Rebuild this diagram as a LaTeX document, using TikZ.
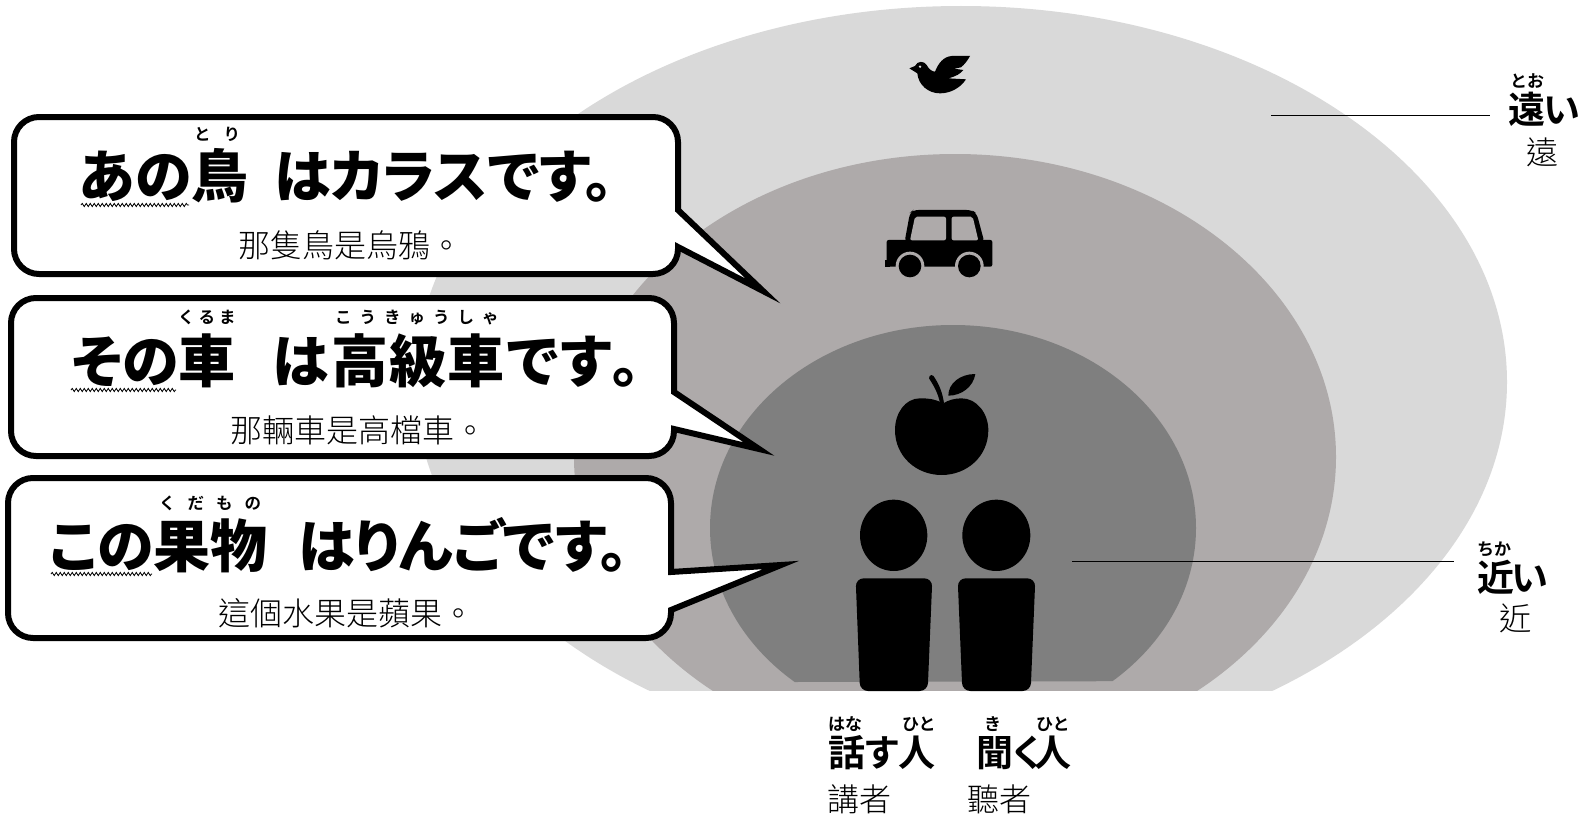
\documentclass[tikz,border=0pt]{standalone}
\usepackage{fontspec}
\usepackage{xcolor}
\usetikzlibrary{decorations.pathmorphing}
\newfontfamily\jpheavy[RawFeature=+palt]{Noto Sans CJK JP Black}
\newfontfamily\jpbold{Noto Sans CJK JP Bold}
\newfontfamily\jpword[RawFeature=+palt]{Noto Sans CJK JP Bold}
\newfontfamily\zhthin{Noto Sans CJK TC Light}
\definecolor{farzone}{HTML}{D9D9D9}
\definecolor{midzone}{HTML}{AEAAAA}
\definecolor{nearzone}{HTML}{7F7F7F}

\begin{document}
\begin{tikzpicture}[
    x=1pt, y=-1pt,
    bubble/.style={draw=black, fill=white, line width=6pt, miter limit=12, line join=miter},
    headtext/.style={anchor=base west, inner sep=0pt, font=\jpheavy\fontsize{57}{60}\selectfont},
    rubytext/.style={anchor=base west, inner sep=0pt, font=\jpbold\fontsize{16.5}{18}\selectfont},
    zhtext/.style={anchor=base west, inner sep=0pt, font=\zhthin\fontsize{32}{36}\selectfont},
    wordtext/.style={anchor=base west, inner sep=0pt, font=\jpword\fontsize{37}{40}\selectfont},
    wordruby/.style={anchor=base west, inner sep=0pt, font=\jpbold\fontsize{17}{20}\selectfont},
    wavy/.style={line width=0.8pt, decorate, decoration={snake, amplitude=1.6pt, segment length=4pt}},
    leader/.style={draw=black, line width=1pt}
]
\useasboundingbox (0,0) rectangle (1590,816);

% Distance zones
\begin{scope}
\clip (0,0) rectangle (1590,690);
\fill[farzone] (961,382) ellipse [x radius=546pt, y radius=376pt];
\fill[midzone] (955,457) ellipse [x radius=381pt, y radius=303pt];
\end{scope}
\begin{scope}
\clip (0,0) -- (1590,0) -- (1590,680) -- (0,684) -- cycle;
\fill[nearzone] (953,528) ellipse [x radius=243pt, y radius=203pt];
\end{scope}

% Bird
\begin{scope}[shift={(860,30)}, scale=1/3]
\fill (148,115) -- (165,108) .. controls (172,92) and (192,92) .. (200,105)
  .. controls (205,115) and (215,125) .. (225,125)
  .. controls (235,100) and (250,80) .. (275,78) -- (330,78)
  .. controls (322,92) and (315,102) .. (303,112) -- (282,116) -- (310,120)
  .. controls (300,132) and (290,138) .. (265,145) -- (318,148)
  .. controls (300,175) and (270,190) .. (240,190)
  .. controls (205,190) and (175,165) .. (172,130) -- cycle;
\fill[farzone] (180,110) circle [radius=4pt];
\end{scope}

% Car
\begin{scope}[shift={(860,30)}, scale=1/3]
\fill[rounded corners=5pt] (133,640) -- (150,548) -- (160,540) -- (335,540) -- (350,550) -- (374,640) -- cycle;
\fill[rounded corners=2pt] (80,710) -- (80,630) -- (397,630) -- (397,710) -- cycle;
\fill (75,690) rectangle (90,710);
\fill[midzone, rounded corners=2pt] (150,631) -- (165,560) -- (258,560) -- (258,631) -- cycle;
\fill[midzone, rounded corners=2pt] (275,631) -- (275,560) -- (338,560) -- (355,631) -- cycle;
\fill[midzone] (150,708) circle [radius=43pt];
\fill[midzone] (328,708) circle [radius=43pt];
\fill[midzone] (100,711) rectangle (380,725);
\fill (150,708) circle [radius=34pt];
\fill (328,708) circle [radius=34pt];
\end{scope}

% Apple and the two people
\begin{scope}[shift={(780,350)}, scale=1/3]
\fill (490,160) .. controls (460,145) and (440,145) .. (420,145)
  .. controls (375,145) and (345,190) .. (345,240)
  .. controls (345,320) and (410,375) .. (485,375)
  .. controls (560,375) and (625,320) .. (625,240)
  .. controls (625,190) and (590,145) .. (545,145)
  .. controls (525,145) and (505,150) .. (490,160) -- cycle;
\fill (492,160) -- (480,160) .. controls (475,130) and (460,105) .. (447,85)
  .. controls (447,72) and (460,72) .. (465,85) .. controls (478,105) and (488,130) .. (492,160) -- cycle;
\fill (505,137) .. controls (505,100) and (540,72) .. (586,72) .. controls (580,110) and (545,137) .. (505,137) -- cycle;
\fill (341,556) ellipse [x radius=101pt, y radius=107pt];
\fill (649,556) ellipse [x radius=102pt, y radius=107pt];
\fill[rounded corners=8pt] (227,685) -- (457,685) -- (443,1023) -- (240,1023) -- cycle;
\fill[rounded corners=8pt] (533,685) -- (766,685) -- (752,1023) -- (547,1023) -- cycle;
\end{scope}

% Speech bubbles
\draw[bubble] (678,210) -- (763,291) -- (678,247) [rounded corners=25pt] -- (678,274) -- (14,274) -- (14,117) -- (678,117) [sharp corners] -- cycle;
\draw[bubble] (674,392) -- (759,449) -- (674,429) [rounded corners=25pt] -- (674,456) -- (11,456) -- (11,298) -- (674,298) [sharp corners] -- cycle;
\draw[bubble] (671,572) -- (781,565) -- (671,610) [rounded corners=25pt] -- (671,638) -- (8,638) -- (8,478) -- (671,478) [sharp corners] -- cycle;

% Bubble texts
\node[headtext] (anotori) at (79,197) {あの鳥};
\node[headtext] (karasu) at (274,197) {はカラスです。};
\node[rubytext] (toriruby) at (194,140) {と\hspace{13pt}り};
\node[zhtext] (karasuzh) at (238,257) {那隻鳥是烏鴉。};
\draw[wavy] (81,205) -- (189,205);

\node[headtext] (sonokuruma) at (71,382) {その車};
\node[headtext] (koukyuu) at (272,382) {は\hspace{3pt}高\hspace{1pt}級\hspace{1pt}車\hspace{3pt}で\hspace{1pt}す\hspace{1pt}。};
\node[rubytext] (kurumaruby) at (178,323) {く\hspace{4pt}る\hspace{4pt}ま};
\node[rubytext] (koukyuuruby) at (335,323) {こ\hspace{8pt}う\hspace{8pt}き\hspace{8pt}ゅ\hspace{8pt}う\hspace{8pt}し\hspace{8pt}ゃ};
\node[zhtext] (koukyuuzh) at (230,442) {那輛車是高檔車。};
\draw[wavy] (71,390) -- (176,390);

\node[headtext] (konokudamono) at (49,567) {この果物};
\node[headtext] (ringo) at (298,567) {はりんごです。};
\node[rubytext] (kudamonoruby) at (159,509) {く\hspace{12pt}だ\hspace{12pt}も\hspace{12pt}の};
\node[zhtext] (ringozh) at (218,625) {這個水果是蘋果。};
\draw[wavy] (51,574) -- (152,574);

% Speaker and listener
\node[wordtext] (hanasu) at (828,766) {話す人};
\node[wordruby] (hanaruby) at (828,730) {はな};
\node[wordruby] (hitoa) at (902,730) {ひと};
\node[wordtext] (kiku) at (976,766) {聞く\hspace{-6pt}人};
\node[wordruby] (kiruby) at (984,730) {き};
\node[wordruby] (hitob) at (1036,730) {ひと};
\node[zhtext] (speakerzh) at (827,811) {講者};
\node[zhtext] (listenerzh) at (967,811) {聽者};

% Far and near labels
\node[wordtext] (tooi) at (1508,123) {遠\hspace{-2pt}い};
\node[wordruby] (tooruby) at (1510,87) {とお};
\node[zhtext] (tooizh) at (1526,164) {遠};
\node[wordtext] (chikai) at (1477,591) {近\hspace{-3pt}い};
\node[wordruby] (chikaruby) at (1477,555) {ちか};
\node[zhtext] (chikaizh) at (1499,630) {近};

\coordinate (fara) at (1271,115);
\coordinate (farb) at (1490,115);
\coordinate (neara) at (1072,561);
\coordinate (nearb) at (1454,561);
\draw[leader] (fara) -- (farb);
\draw[leader] (neara) -- (nearb);

\end{tikzpicture}
\end{document}
